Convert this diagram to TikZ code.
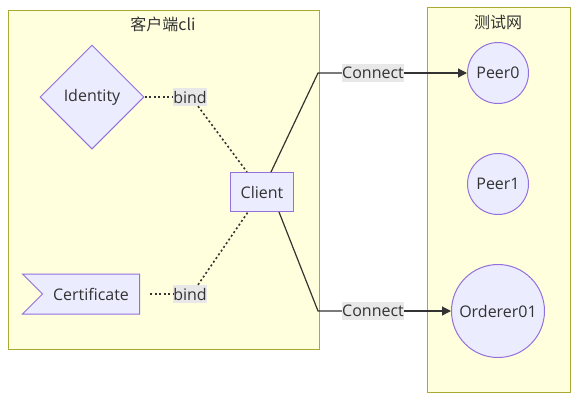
\documentclass[tikz,border=0pt]{standalone}
\usepackage{fontspec}
\setmainfont{Open Sans}
\newfontfamily\cjk{Noto Sans CJK SC}
\usetikzlibrary{shapes.geometric,shapes.symbols,arrows.meta,positioning}
\definecolor{clfill}{HTML}{FFFFDE}
\definecolor{cldraw}{HTML}{AAAA33}
\definecolor{ndfill}{HTML}{ECECFF}
\definecolor{nddraw}{HTML}{9370DB}
\definecolor{txt}{HTML}{333333}
\definecolor{lblfill}{HTML}{E8E8E8}
\tikzset{cluster/.style={draw=cldraw, fill=clfill, line width=1pt},
ctitle/.style={text=txt, font=\cjk\fontsize{16}{19}\selectfont},
item/.style={draw=nddraw, fill=ndfill, line width=1pt, text=txt, font=\fontsize{16}{19}\selectfont},
elabel/.style={fill=lblfill, inner sep=0pt, minimum height=18pt, text=txt, font=\fontsize{16}{19}\selectfont},
dotlink/.style={draw=txt, line width=1.6pt, dash pattern=on 2pt off 2.5pt},
solidlink/.style={draw=txt, line width=1.2pt},
tip/.style={-{Triangle[length=9pt,width=9pt]}}
}

\begin{document}
\begin{tikzpicture}[x=1pt, y=-1pt, node distance=2cm, on grid]
        \path[use as bounding box] (0,0) rectangle (577,400);
        % subgraphs
        \draw[cluster] (8,10) rectangle (319,349);
        \draw[cluster] (427,7) rectangle (570,392);
        \node[ctitle] (cliTitle) at (163,24) {客户端cli};
        \node[ctitle] (netTitle) at (498,22) {测试网};

        % client side
        \node[item, diamond, minimum size=104pt, inner sep=0pt] (Identity) at (92,97) {Identity};
        \node[item, signal, signal from=west, signal to=nowhere, signal pointer angle=90,
              minimum width=117pt, minimum height=40pt] (Certificate) at (91,294) {Certificate};
        \node[item, minimum width=63pt, minimum height=39pt] (Client) at (262,192) {Client};
        \node[elabel] (bindA) [right=98pt of Identity] {bind};
        \node[elabel] (bindB) [right=99pt of Certificate] {bind};

        % test network
        \node[item, circle, minimum size=61pt, inner sep=0pt] (Peer0) at (498,73) {Peer0};
        \node[item, circle, minimum size=61pt, inner sep=0pt] (Peer1) [below=111pt of Peer0] {Peer1};
        \node[item, circle, minimum size=93pt, inner sep=0pt] (Orderer01) [below=127pt of Peer1] {Orderer01};

        \coordinate (kneeA) at (318,73);
        \coordinate (kneeB) at (318,311);
        \node[elabel] (conA) at (373,73) {Connect};
        \node[elabel] (conB) at (373,311) {Connect};

        \draw[dotlink] (Identity.east) -- (bindA.west);
        \draw[dotlink] ([xshift=8pt]bindA.south) -- ([xshift=-15pt]Client.north);
        \draw[dotlink] ([xshift=10pt]Certificate.east) -- (bindB.west);
        \draw[dotlink] ([xshift=8pt]bindB.north) -- ([xshift=-14pt]Client.south);
        \draw[solidlink] ([xshift=9pt]Client.north) -- (kneeA) -- (conA.west);
        \draw[solidlink, tip] (conA.east) -- (Peer0.west);
        \draw[solidlink] ([xshift=17pt]Client.south) -- (kneeB) -- (conB.west);
        \draw[solidlink, tip] (conB.east) -- (Orderer01.west);
\end{tikzpicture}
\end{document}
